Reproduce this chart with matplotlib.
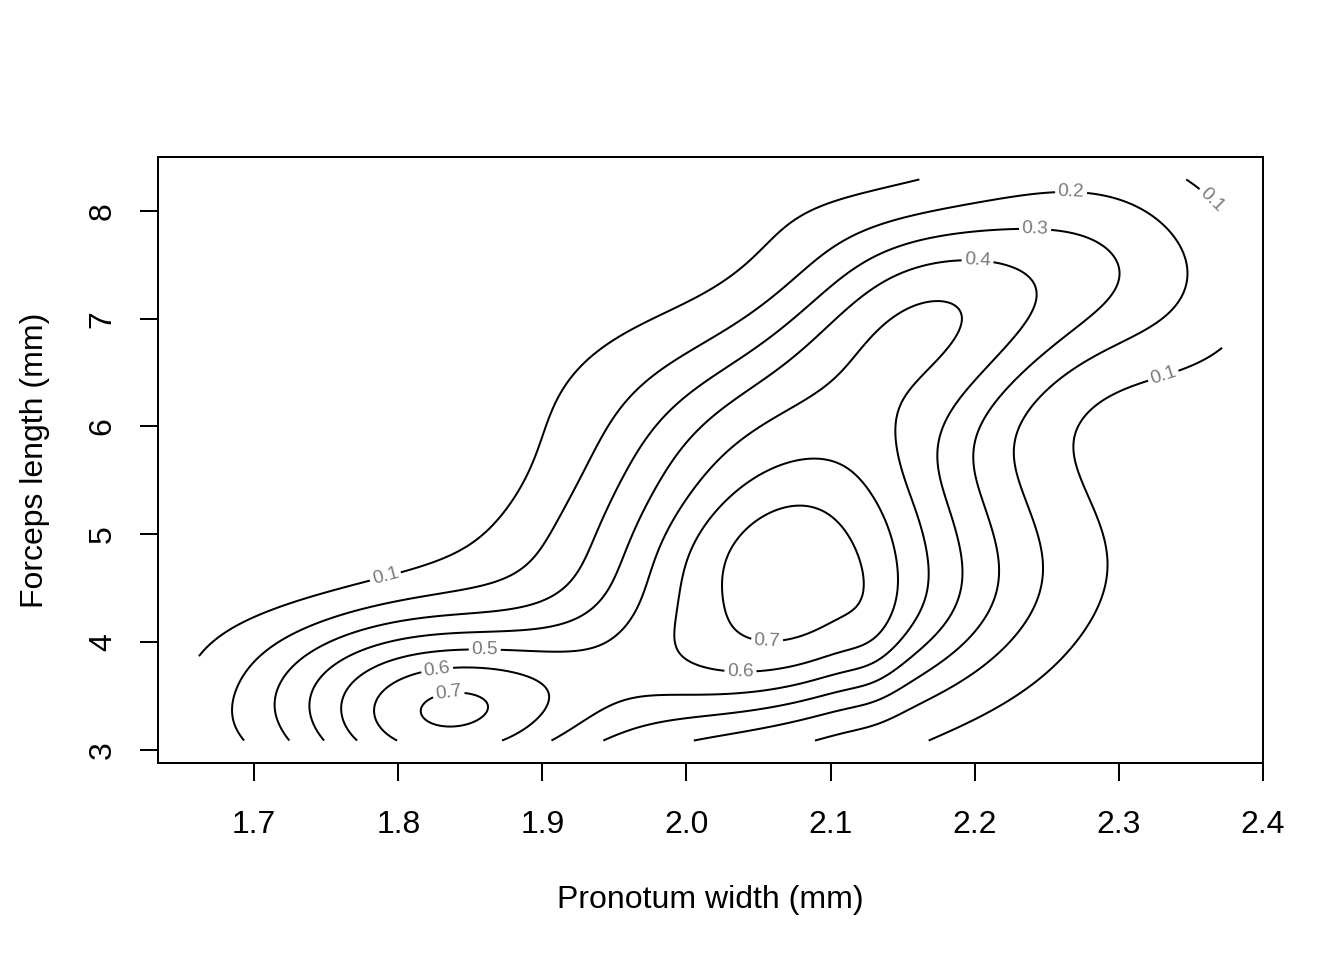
import numpy as np
import matplotlib
matplotlib.use('Agg')
import matplotlib.pyplot as plt

# Two-dimensional density of (pronotum width, forceps length),
# expressed as a mixture of bivariate normal kernels
weights = [0.15839, 0.14270, 0.01103, 0.06324, 0.16047, 0.21782,
           0.06248, 0.00206, 0.07328, 0.01708, 0.12926, 0.05075]
mean_x = [1.8268, 2.0393, 2.2002, 2.3064, 1.9980, 2.0789,
          1.6253, 2.1290, 2.0847, 2.0935, 2.1641, 1.8797]
mean_y = [3.3145, 4.6745, 6.4276, 7.5546, 3.1666, 5.5893,
          2.9096, 4.1092, 3.9514, 7.9222, 7.0007, 3.8644]
sd_x = [0.07782, 0.08702, 0.07156, 0.06970, 0.17838, 0.10180,
        0.35777, 0.01500, 0.09104, 0.14968, 0.07295, 0.17996]
sd_y = [0.5432, 0.6145, 0.6379, 0.7284, 1.1909, 0.8586,
        2.7483, 0.5535, 0.5403, 0.8851, 0.6943, 0.4439]
corr = [0.0812, 0.2243, 0.7512, -0.2593, 0.6155, -0.2356,
        0.9866, -0.0540, 0.4670, -0.8481, 0.2164, -0.2607]

# range of the observations (grid of the density estimate)
x_range = [1.6616, 2.3718]
y_range = [3.086, 8.292]

levels = [0.1, 0.2, 0.3, 0.4, 0.5, 0.6, 0.7]
x_ticks = [1.7, 1.8, 1.9, 2.0, 2.1, 2.2, 2.3, 2.4]
x_tick_labels = ["1.7", "1.8", "1.9", "2.0", "2.1", "2.2", "2.3", "2.4"]
y_ticks = [3, 4, 5, 6, 7, 8]
y_tick_labels = ["3", "4", "5", "6", "7", "8"]
x_label = "Pronotum width (mm)"
y_label = "Forceps length (mm)"

# contour label anchor points (layout only)
label_positions = [(1.791, 4.61), (1.860, 3.93), (1.827, 3.74), (1.835, 3.51),
                   (2.056, 4.03), (2.0375, 3.75), (2.267, 8.18), (2.242, 7.83),
                   (2.202, 7.52), (2.331, 6.47), (2.362, 8.07)]

# ---- density surface on a grid ----
gx = np.linspace(x_range[0], x_range[1], 300)
gy = np.linspace(y_range[0], y_range[1], 300)
GX, GY = np.meshgrid(gx, gy)
Z = np.zeros_like(GX)
for w, mx, my, sx, sy, r in zip(weights, mean_x, mean_y, sd_x, sd_y, corr):
    dx = (GX - mx) / sx
    dy = (GY - my) / sy
    q = (dx * dx - 2 * r * dx * dy + dy * dy) / (1 - r * r)
    Z += w * np.exp(-0.5 * q) / (2 * np.pi * sx * sy * np.sqrt(1 - r * r))

# ---- figure ----
plt.rcParams['font.family'] = ['Liberation Sans', 'DejaVu Sans']
fig = plt.figure(figsize=(7, 5), dpi=192)
ax = fig.add_axes([158 / 1344, 1 - 763 / 960, (1263 - 158) / 1344, (763 - 157) / 960])

cs = ax.contour(GX, GY, Z, levels=levels, colors='black', linewidths=0.75)
texts = ax.clabel(cs, levels=levels, fmt='%.1f', fontsize=7.2, colors='#7a7a7a',
                  inline=True, inline_spacing=4, manual=label_positions)

xpad = 0.04 * (x_range[1] - x_range[0])
ypad = 0.04 * (y_range[1] - y_range[0])
ax.set_xlim(x_range[0] - xpad, x_range[1] + xpad)
ax.set_ylim(y_range[0] - ypad, y_range[1] + ypad)

ax.set_xticks(x_ticks)
ax.set_xticklabels(x_tick_labels)
ax.set_yticks(y_ticks)
ax.set_yticklabels(y_tick_labels, rotation=90, va='center')
ax.tick_params(axis='both', direction='out', length=6.75, width=0.75,
               labelsize=12, colors='black')
ax.tick_params(axis='x', pad=10.8)
ax.tick_params(axis='y', pad=8.3)
for s in ax.spines.values():
    s.set_linewidth(0.75)
    s.set_color('black')

ax.set_xlabel(x_label, fontsize=12)
ax.set_ylabel(y_label, fontsize=12)
ax.xaxis.set_label_coords(0.5, -(900 - 763) / 606)
ax.xaxis.label.set_va('center')
ax.yaxis.set_label_coords((35 - 158) / 1105, 0.5)
ax.yaxis.label.set_va('center')

fig.savefig('out.png', dpi=192)
